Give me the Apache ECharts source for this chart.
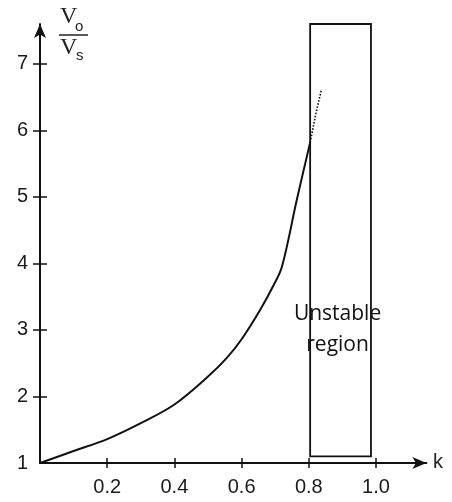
<!DOCTYPE html>
<html><head><meta charset="utf-8">
<script src="https://cdn.jsdelivr.net/npm/echarts@6/dist/echarts.min.js"></script>
<style>html,body{margin:0;padding:0;background:#fff}#c{width:452px;height:502px}</style>
</head><body><div id="c"></div>
<script>
const kValues = [0, 0.1, 0.2, 0.3, 0.4, 0.5, 0.556, 0.6, 0.655, 0.694, 0.72, 0.764, 0.804];
const ratioValues = [1, 1.18, 1.36, 1.6, 1.88, 2.3, 2.58, 2.86, 3.3, 3.66, 3.95, 4.95, 5.82];
const extK = [0.804, 0.823, 0.838];
const extRatio = [5.82, 6.3, 6.62];
const xTicks = [0.2, 0.4, 0.6, 0.8, 1.0];
const yTicks = [1, 2, 3, 4, 5, 6, 7];
const unstableK = [0.804, 0.985];
const unstableRatio = [1.1, 7.6];
const regionLabel = 'Unstable\nregion';

const FONT = 'Liberation Sans';
const chart = echarts.init(document.getElementById('c'));
const axisCommon = {
  axisLine: { show: false },
  splitLine: { show: false }
};
chart.setOption({
  animation: false,
  backgroundColor: '#fff',
  grid: { left: 40, right: 25.6, top: 24, bottom: 39 },
  xAxis: [
    Object.assign({}, axisCommon, {
      type: 'value', min: 0, max: 1.15,
      axisLine: { show: true, lineStyle: { color: '#111', width: 2 }, symbol: ['none', 'arrow'], symbolSize: [9, 14] },
      axisTick: { show: true, length: 5, lineStyle: { color: '#111', width: 1.5 }, customValues: xTicks },
      axisLabel: { customValues: xTicks, formatter: v => v.toFixed(1), color: '#1a1a1a', fontSize: 20, fontFamily: FONT, margin: 14 }
    }),
    Object.assign({}, axisCommon, {
      type: 'value', min: 0, max: 1.15, position: 'bottom',
      axisTick: { show: true, inside: true, length: 5, lineStyle: { color: '#111', width: 1.5 }, customValues: xTicks },
      axisLabel: { show: false }
    })
  ],
  yAxis: [
    Object.assign({}, axisCommon, {
      type: 'value', min: 1, max: 7.6,
      axisLine: { show: true, lineStyle: { color: '#111', width: 2 }, symbol: ['none', 'arrow'], symbolSize: [9, 14] },
      axisTick: { show: true, length: 7, lineStyle: { color: '#111', width: 1.5 }, customValues: yTicks.slice(1) },
      axisLabel: { customValues: yTicks, color: '#1a1a1a', fontSize: 20, fontFamily: FONT, margin: 12 }
    }),
    Object.assign({}, axisCommon, {
      type: 'value', min: 1, max: 7.6, position: 'left',
      axisTick: { show: true, inside: true, length: 7, lineStyle: { color: '#111', width: 1.5 }, customValues: yTicks.slice(1) },
      axisLabel: { show: false }
    })
  ],
  series: [
    {
      type: 'line', xAxisIndex: 0, yAxisIndex: 0, smooth: 0.35, symbol: 'none',
      lineStyle: { color: '#111', width: 2 },
      data: kValues.map((k, i) => [k, ratioValues[i]]),
      markArea: {
        silent: true,
        itemStyle: { color: 'rgba(0,0,0,0)', borderColor: '#111', borderWidth: 1.8 },
        label: { show: true, position: 'inside', offset: [-3, 89], color: '#111', fontSize: 21, lineHeight: 31, fontFamily: 'Open Sans' },
        data: [[{ xAxis: unstableK[0], yAxis: unstableRatio[0], name: regionLabel }, { xAxis: unstableK[1], yAxis: unstableRatio[1] }]]
      }
    },
    {
      type: 'line', xAxisIndex: 0, yAxisIndex: 0, symbol: 'none',
      lineStyle: { color: '#111', width: 1.6, type: 'dotted' },
      data: extK.map((k, i) => [k, extRatio[i]])
    }
  ],
  graphic: [
    { type: 'text', left: 60, top: 5, style: { text: 'V', fontSize: 24, fontFamily: 'Liberation Sans Narrow', fill: '#222' } },
    { type: 'text', left: 75, top: 19, style: { text: 'o', fontSize: 15, fontFamily: FONT, fill: '#222' } },
    { type: 'line', shape: { x1: 59, y1: 35, x2: 88, y2: 35 }, style: { stroke: '#222', lineWidth: 1.5 } },
    { type: 'text', left: 60, top: 36, style: { text: 'V', fontSize: 24, fontFamily: 'Liberation Sans Narrow', fill: '#222' } },
    { type: 'text', left: 76, top: 48, style: { text: 's', fontSize: 15, fontFamily: FONT, fill: '#222' } },
    { type: 'text', left: 433, top: 452, style: { text: 'k', fontSize: 20, fontFamily: FONT, fill: '#222' } }
  ]
});
</script>
</body></html>
